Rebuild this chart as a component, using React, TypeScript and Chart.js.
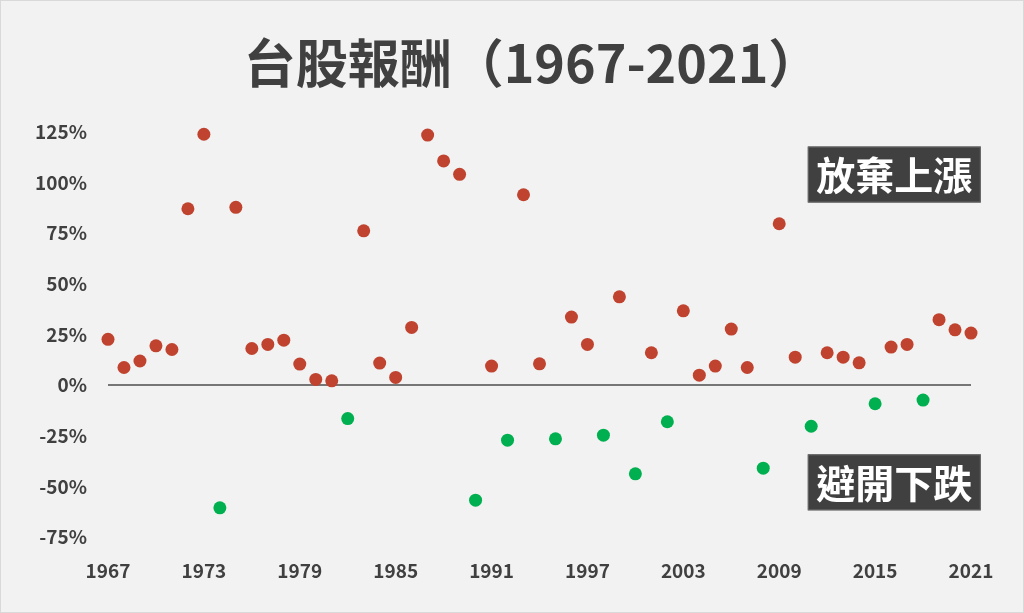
import React, { useEffect, useRef } from "react";
import { Chart, registerables } from "chart.js";

Chart.register(...registerables);

const years: number[] = [
  1967, 1968, 1969, 1970, 1971, 1972, 1973, 1974, 1975, 1976, 1977, 1978, 1979, 1980,
  1981, 1982, 1983, 1984, 1985, 1986, 1987, 1988, 1989, 1990, 1991, 1992, 1993, 1994,
  1995, 1996, 1997, 1998, 1999, 2000, 2001, 2002, 2003, 2004, 2005, 2006, 2007, 2008,
  2009, 2010, 2011, 2012, 2013, 2014, 2015, 2016, 2017, 2018, 2019, 2020, 2021,
];

const returns: number[] = [
  22.6, 8.7, 11.9, 19.4, 17.6, 87.1, 123.9, -60.6, 87.8, 18.1, 20.1, 22.2, 10.4, 2.8,
  2.1, -16.5, 76.2, 10.9, 3.8, 28.5, 123.5, 110.7, 104.1, -56.8, 9.4, -27.2, 94.0, 10.5,
  -26.5, 33.6, 20.1, -24.7, 43.6, -43.8, 16.0, -18.1, 36.7, 4.9, 9.4, 27.7, 8.7, -41.0,
  79.7, 13.8, -20.3, 16.0, 13.8, 11.0, -9.2, 18.8, 20.1, -7.4, 32.3, 27.3, 25.7,
];

const titleText = "台股報酬（1967-2021）";
const upLabel = "放棄上漲";
const downLabel = "避開下跌";
const yTicks = { min: -75, max: 125, step: 25 };
const xTicks = { min: 1967, max: 2021, step: 6 };

const FONT = "'Noto Sans CJK TC', 'Noto Sans', sans-serif";
const TEXT = "#404040";
const RED = "#c0432f";
const GREEN = "#00b050";

const titleDraw = {
  id: "titleDraw",
  afterDraw(chart: any) {
    const { ctx } = chart;
    ctx.save();
    ctx.fillStyle = TEXT;
    ctx.font = `bold 52px ${FONT}`;
    ctx.textAlign = "center";
    ctx.textBaseline = "middle";
    ctx.fillText(titleText, 531, 62);
    ctx.restore();
  },
};

const labelBoxes = {
  id: "labelBoxes",
  afterDraw(chart: any) {
    const { ctx, scales } = chart;
    const xs = scales.x;
    const ys = scales.y;
    const items = [
      { text: upLabel, x: 2016.2, y: 104 },
      { text: downLabel, x: 2016.2, y: -48 },
    ];
    ctx.save();
    for (const it of items) {
      const cx = xs.getPixelForValue(it.x);
      const cy = ys.getPixelForValue(it.y);
      const w = 173;
      const h = 56;
      ctx.fillStyle = "#404040";
      ctx.fillRect(cx - w / 2, cy - h / 2, w, h);
      ctx.strokeStyle = "#6a6a6a";
      ctx.lineWidth = 1;
      ctx.strokeRect(cx - w / 2 + 0.5, cy - h / 2 + 0.5, w - 1, h - 1);
      ctx.fillStyle = "#ffffff";
      ctx.font = `bold 39px ${FONT}`;
      ctx.textAlign = "center";
      ctx.textBaseline = "middle";
      ctx.fillText(it.text, cx, cy + 1);
    }
    ctx.restore();
  },
};

export default function App() {
  const canvasRef = useRef<HTMLCanvasElement | null>(null);

  useEffect(() => {
    document.body.style.margin = "0";
    const canvas = canvasRef.current;
    if (!canvas) return;

    const posData = years
      .map((y, i) => ({ x: y, y: returns[i] }))
      .filter((p) => p.y >= 0);
    const negData = years
      .map((y, i) => ({ x: y, y: returns[i] }))
      .filter((p) => p.y < 0);

    const chart = new Chart(canvas, {
      type: "scatter",
      data: {
        datasets: [
          {
            label: "up",
            data: posData,
            backgroundColor: RED,
            borderWidth: 0,
            pointRadius: 6.5,
            clip: false,
          } as any,
          {
            label: "down",
            data: negData,
            backgroundColor: GREEN,
            borderWidth: 0,
            pointRadius: 6.5,
            clip: false,
          } as any,
        ],
      },
      options: {
        animation: false,
        responsive: false,
        maintainAspectRatio: false,
        layout: { padding: { left: 0, right: 52, top: 131, bottom: 0 } },
        plugins: {
          legend: { display: false },
          tooltip: { enabled: false },
          title: { display: false },
        },
        scales: {
          x: {
            type: "linear",
            min: xTicks.min,
            max: xTicks.max,
            afterBuildTicks: (scale: any) => {
              const t = [];
              for (let v = xTicks.min; v <= xTicks.max; v += xTicks.step) t.push({ value: v });
              scale.ticks = t;
            },
            afterFit: (scale: any) => {
              scale.height = 75;
            },
            grid: { display: false, drawTicks: false },
            border: { display: false },
            ticks: {
              color: TEXT,
              padding: 22,
              maxRotation: 0,
              autoSkip: false,
              font: { family: FONT, size: 19, weight: "bold" },
              callback: (v: any) => String(v),
            },
          },
          y: {
            type: "linear",
            min: yTicks.min,
            max: yTicks.max,
            afterBuildTicks: (scale: any) => {
              const t = [];
              for (let v = yTicks.min; v <= yTicks.max; v += yTicks.step) t.push({ value: v });
              scale.ticks = t;
            },
            afterFit: (scale: any) => {
              scale.width = 107;
            },
            grid: {
              drawTicks: false,
              color: (c: any) => (c.tick && c.tick.value === 0 ? "#767676" : "rgba(0,0,0,0)"),
              lineWidth: 2,
            },
            border: { display: false },
            ticks: {
              color: TEXT,
              padding: 21,
              font: { family: FONT, size: 19, weight: "bold" },
              callback: (v: any) => `${v}%`,
            },
          },
        },
      },
      plugins: [titleDraw, labelBoxes],
    } as any);

    return () => chart.destroy();
  }, []);

  return (
    <div
      style={{
        width: 1024,
        height: 613,
        background: "#f2f2f2",
        boxSizing: "border-box",
        border: "1px solid #d9d9d9",
        position: "relative",
        overflow: "hidden",
      }}
    >
      <canvas
        ref={canvasRef}
        width={1022}
        height={611}
        style={{ display: "block", width: 1022, height: 611 }}
      />
    </div>
  );
}
